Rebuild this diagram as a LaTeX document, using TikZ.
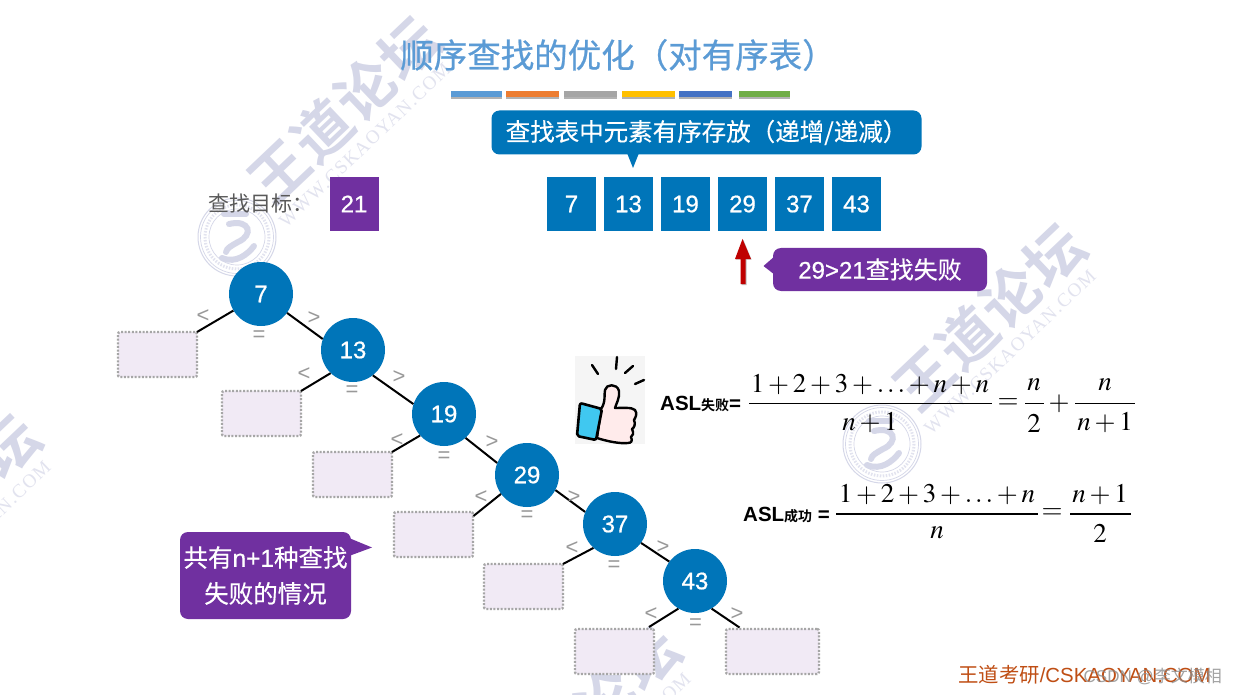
\documentclass[tikz,border=0pt]{standalone}
\usepackage{mathptmx}
\usepackage[no-math]{fontspec}
\setmainfont[FakeBold=0.7]{Liberation Sans}
\newfontfamily\plainsans{Liberation Sans}
\newfontfamily\cjk[FakeBold=0.4]{Noto Sans CJK SC}
\newfontfamily\cjklight{Noto Sans CJK SC}
\newfontfamily\titlefont[FakeBold=0.7]{Noto Sans CJK SC}
\newfontfamily\cjkbold{Noto Sans CJK SC Bold}
\newfontfamily\aslfont{Liberation Sans Bold}
\newfontfamily\wmfont[LetterSpace=3]{Noto Sans CJK SC Bold}
\newfontfamily\wmlat[LetterSpace=7]{Liberation Serif}
\newcommand{\fs}[1]{\fontsize{#1}{#1}\selectfont}
\definecolor{blueA}{HTML}{0075B9}
\definecolor{purpleA}{HTML}{7030A0}
\definecolor{wmc}{HTML}{D5D7E8}
\definecolor{wmd}{HTML}{E2E3EF}
\definecolor{titleblue}{HTML}{5B9BD5}
\tikzset{
  arr/.style={fill=blueA,text=white,minimum width=49pt,minimum height=54pt,inner sep=0pt,font=\fs{24}},
  tree/.style={circle,fill=blueA,text=white,minimum size=64pt,inner sep=0pt,font=\fs{24}},
  leaf/.style={draw=black!35,fill=purpleA!10,line width=2.4pt,dash pattern=on 2pt off 1.6pt,rounded corners=2pt,inner sep=0pt,outer sep=0pt,anchor=north west},
  edge/.style={draw=black,line width=2pt},
  op/.style={text=black!40,font=\fs{22}\plainsans,inner sep=0pt},
  callout/.style={rounded corners=8pt,text=white,inner sep=0pt,align=center,font=\fs{24}},
  bar/.style={inner sep=0pt,minimum height=6pt,anchor=north west},
  mth/.style={inner sep=0pt,font=\fs{27}},
  asl/.style={inner sep=0pt,font=\fs{20.5}\aslfont,anchor=west},
  wmark/.style={text=wmc,inner sep=0pt},
}
\newcommand{\wmset}[2]{%
  \begin{scope}[shift={(#1,#2)}]
    \node[wmark,rotate=43.5,font=\fs{58}\wmfont] at (344,110) {王道论坛};
    \node[wmark,text=wmd,rotate=43.5,font=\fs{19}\wmlat] at (365,145) {WWW.CSKAOYAN.COM};
    \draw[wmc,line width=1pt] (237,237) circle (39);
    \draw[wmc,line width=0.7pt] (237,237) circle (36.5);
    \draw[wmd,line width=3pt,dash pattern=on 1.5pt off 1.5pt] (237,237) circle (32);
    \draw[wmc,line width=0.7pt] (237,237) circle (28);
    \draw[wmc,line width=6pt,line cap=round] (224,214) -- (246,214);
    \draw[wmc,line width=6pt,line cap=round] (229,224) .. controls (250,219) and (254,235) .. (238,242) .. controls (231,246) and (227,248) .. (226,252);
    \draw[wmc,line width=6pt,line cap=round] (222,258) .. controls (236,264) and (248,254) .. (254,246);
  \end{scope}}
\begin{document}
\begin{tikzpicture}[x=1pt,y=-1pt]
\useasboundingbox[fill=white] (0,0) rectangle (1237,695);
\begin{scope}
\clip (0,0) rectangle (1237,695);
\wmset{0}{0}
\wmset{645}{207}
\wmset{-400}{398}
\wmset{240}{610}
\end{scope}
% title and bars
\node[text=titleblue,inner sep=0pt,font=\fs{33.5}\titlefont] (title) at (618,55) {顺序查找的优化（对有序表）};
\foreach \xa/\xb/\cc [count=\i] in {451/502/5B9BD5,506/559/ED7D31,564/617/A5A5A5,622/675/FFC000,679/732/4472C4,739/790/70AD47}{
  \fill[black!30] (\xa,93) rectangle (\xb,99);
  \definecolor{barc}{HTML}{\cc}
  \pgfmathsetmacro{\barw}{\xb-\xa}
  \node[bar,fill=barc,minimum width=\barw pt] (bar\i) at (\xa,91) {};
}
% top callout
\node[callout,fill=blueA,minimum width=430pt,minimum height=44pt,font=\fs{24.5}\cjk] (c1) at (706.5,132.5) {\raisebox{-1.5pt}{查找表中元素有序存放（递增/递减）}};
\coordinate (c1tip) at (633,168);
\fill[blueA] (627,153) -- (c1tip) -- (639,153) -- cycle;
% target
\node[inner sep=0pt,anchor=west,text=black!65,font=\fs{21}\cjklight] (tlabel) at (208,204) {查找目标：};
\node[arr,fill=purpleA] (target) at (354,204) {\raisebox{-1pt}{21}};
% array
\foreach \x/\v in {571.5/7,628.5/13,685.5/19,742.5/29,799.5/37,856.5/43}{
  \node[arr] (a\v) at (\x,204) {\raisebox{-1pt}{\v}};
}
% red arrow
\fill[black!25] (744,259.5) -- (736,259.5) -- (743.5,240) -- (751.5,259.5) -- (746.5,259.5) -- (746.5,285) -- (741.5,285) -- (741.5,259.5) -- cycle;
\fill[red!75!black] (740.5,284) -- (740.5,259) -- (735,259) -- (742.5,239) -- (751,259) -- (745.5,259) -- (745.5,284) -- cycle;
% purple callout
\node[callout,fill=purpleA,minimum width=214pt,minimum height=43pt] (c2) at (880,269.5) {29>21{\cjk 查找失败}};
\coordinate (c2tip) at (763.5,266);
\fill[purpleA] (775,256) -- (c2tip) -- (775,275) -- cycle;
% bottom callout
\node[callout,fill=purpleA,minimum width=171pt,minimum height=87pt,align=center,font=\fs{24.5}] (c3) at (265.5,575.5) {{\cjk 共有}n+1{\cjk 种查找}\\[11.5pt]{\cjk 失败的情况}};
\coordinate (c3tip) at (372,547.5);
\fill[purpleA] (349,538) -- (c3tip) -- (349,556) -- cycle;
% tree
\foreach \n/\x/\y in {7/261/294,13/353/350,19/444/414,29/527/475,37/615/524,43/695/581}{
  \node[tree] (n\n) at (\x,\y) {\n};
}
\foreach \k/\x/\y/\w in {1/118/332/79,2/222/391/79,3/313/452/79,4/394/512/79,5/484/564/79,6/575/629/79,7/726/629/93}{
  \node[leaf,minimum width=\w pt,minimum height=45pt] (b\k) at (\x,\y) {};
}
\coordinate (b4e) at (473.5,516);
\coordinate (b6e) at (649,627);
\coordinate (b7e) at (739.5,627.5);
\draw[edge] (n7.324) -- (n13.160);
\draw[edge] (n13.308) -- (n19.162);
\draw[edge] (n19.312) -- (n29.158);
\draw[edge] (n29.332) -- (n37.158);
\draw[edge] (n37.324) -- (n43.143);
\draw[edge] (n7.211) -- (b1.north east);
\draw[edge] (n13.226) -- (b2.north east);
\draw[edge] (n19.222) -- (b3.north east);
\draw[edge] (n29.216) -- (b4e);
\draw[edge] (n37.228) -- (b5.north east);
\draw[edge] (n43.239) -- (b6e);
\draw[edge] (n43.301) -- (b7e);
\foreach \i/\x/\y/\t in {1/203/316/<,2/314/318/>,3/259/336/=,4/304/374/<,5/399/377/>,6/352/391/=,7/397/440/<,8/492/442/>,9/444/457/=,10/481/497/<,11/574/497/>,12/527/516/=,13/572/548/<,14/663/547/>,15/614/566/=,16/651/614/<,17/737/614/>,18/695.5/624/=}{
  \node[op] (op\i) at (\x,\y) {\t};
}
% thumb
\fill[black!4] (575,356) rectangle (645,444);
\draw[black,line width=2.4pt,line cap=round] (592,365) -- (598,374) (617,357) -- (616,369) (633,366) -- (625,373) (644,380) -- (635,384);
\draw[black,line width=2.4pt,fill=red!8,line join=round] (601,409) .. controls (606,402) and (604,394) .. (605,390) .. controls (606,384) and (617,383) .. (619,391) .. controls (620,398) and (616,404) .. (615,408) .. controls (622,408) and (632,407) .. (635,410) .. controls (638,414) and (635,418) .. (634,420) .. controls (636,424) and (634,428) .. (632,429) .. controls (634,433) and (633,436) .. (631,437) .. controls (633,441) and (631,443) .. (628,443) .. controls (620,444) and (606,441) .. (597,438) -- cycle;
\definecolor{cuffc}{HTML}{40C8F0}
\draw[black,line width=2.6pt,fill=cuffc,line join=round,rounded corners=2pt] (580,403) -- (602,409) -- (596,440) -- (577,436) -- cycle;
% formulas
\node[asl] (f1) at (660,404) {ASL{\fs{14}\cjkbold 失败}=};
\node[mth] (f1n) at (870,385) {$1+2+3+\ldots+n+n$};
\node[mth] (f1d) at (870,423) {$n+1$};
\draw[line width=1.8pt] (749,403.5) -- (992,403.5);
\node[mth] (f1e) at (1008,404) {$=$};
\node[mth] (f1b) at (1034,385) {$n$};
\node[mth] (f1c) at (1034,423) {$2$};
\draw[line width=1.8pt] (1025,403.5) -- (1044,403.5);
\node[mth] (f1p) at (1059,404) {$+$};
\node[mth] (f1g) at (1105,385) {$n$};
\node[mth] (f1h) at (1105,423) {$n+1$};
\draw[line width=1.8pt] (1075,403.5) -- (1135,403.5);
\node[asl] (f2) at (743,515) {ASL{\fs{14}\cjkbold 成功} =};
\node[mth] (f2n) at (937,495) {$1+2+3+\ldots+n$};
\node[mth] (f2d) at (937,533) {$n$};
\draw[line width=1.8pt] (836,514) -- (1038,514);
\node[mth] (f2e) at (1052,514) {$=$};
\node[mth] (f2f) at (1100,495) {$n+1$};
\node[mth] (f2g) at (1100,533) {$2$};
\draw[line width=1.8pt] (1070,514) -- (1131,514);
% footer
\definecolor{footc}{HTML}{BF4E14}
\node[inner sep=0pt,anchor=west,text=footc,font=\fs{20.4}\plainsans] (foot) at (958,675) {{\cjklight 王道考研}/CSKAOYAN.COM};
\node[inner sep=0pt,anchor=east,text=black!45,opacity=0.8,font=\fs{17}\plainsans] (csdn) at (1222,676) {CSDN @{\cjklight 李文模相}};
\end{tikzpicture}
\end{document}
